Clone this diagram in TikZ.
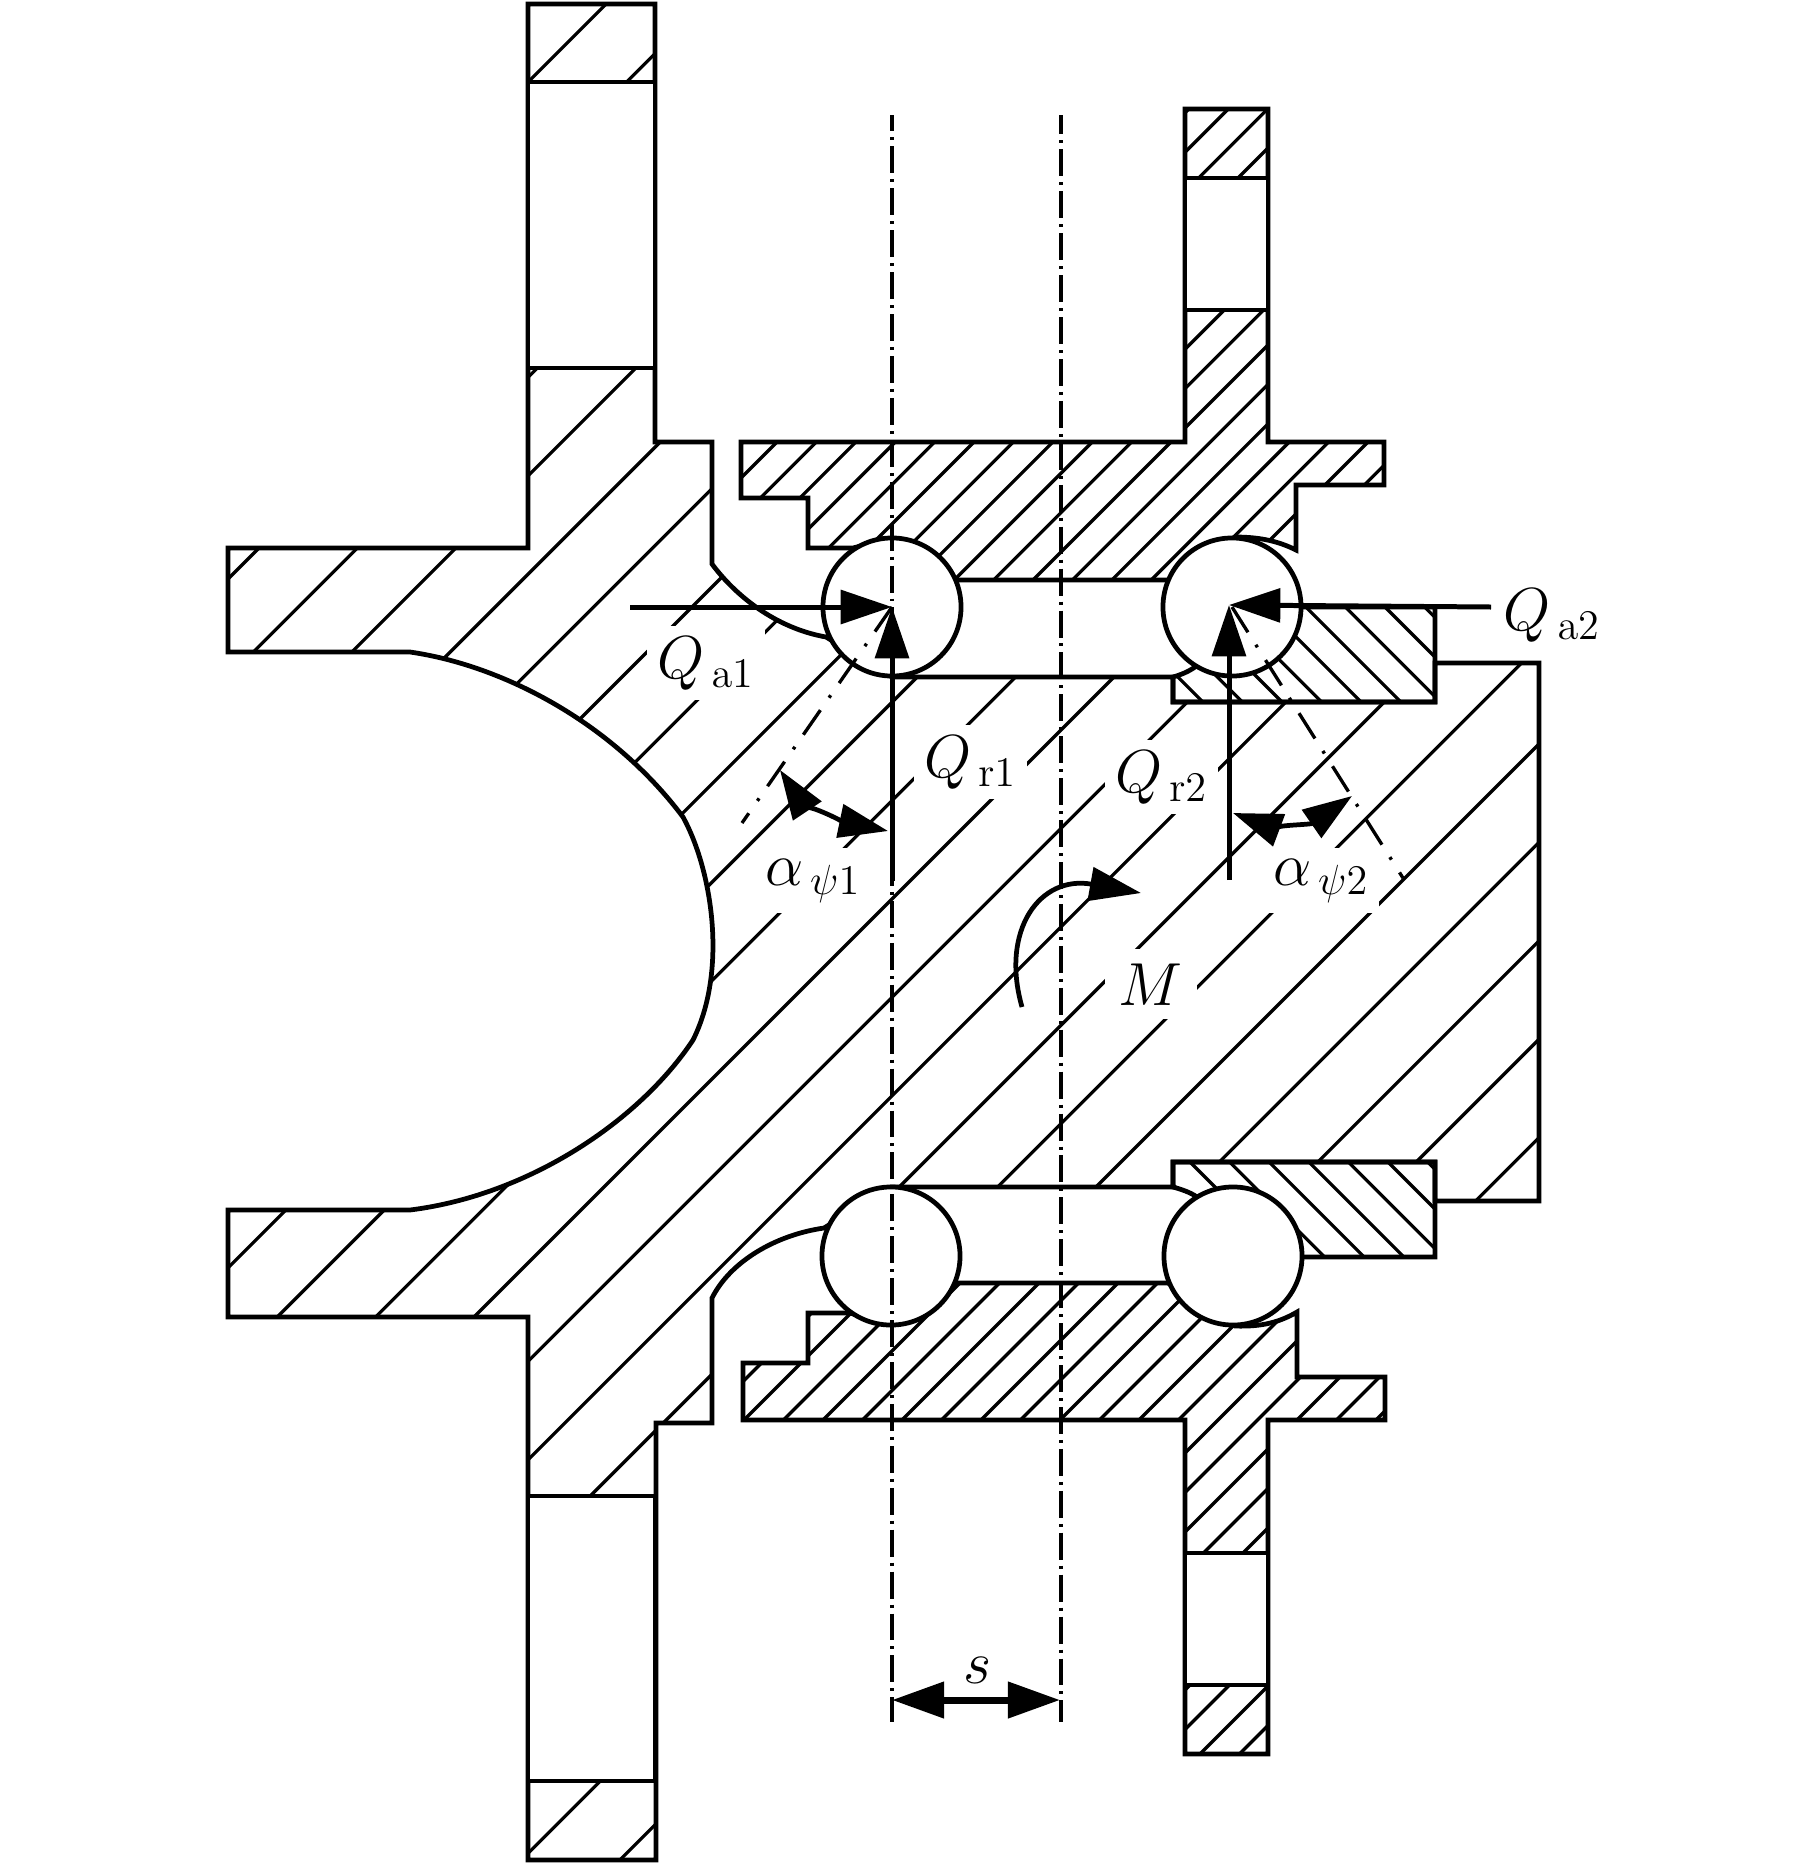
\documentclass[tikz,border=0pt]{standalone}
\usetikzlibrary{arrows.meta}
\tikzset{
	outline/.style={line width=1.35pt,line join=miter},
	hatch/.style={line width=0.92pt},
	ball/.style={circle,draw,fill=white,line width=1.35pt,minimum size=1.38cm,inner sep=0pt},
	lab/.style={fill=white,inner sep=3pt,font=\fontsize{17}{20}\selectfont},
	axisline/.style={line width=0.95pt,dash pattern=on 7.67pt off 1.7pt on 0.85pt off 1.7pt},
	slantline/.style={line width=0.95pt,dash pattern=on 8.5pt off 4.2pt on 0.85pt off 4.3pt},
	force/.style={line width=1.42pt,-{Triangle[length=14.6pt,width=9.5pt]}},
	turn/.style={line width=1.35pt,{Triangle[length=14pt,width=9.5pt]}-{Triangle[length=14pt,width=9.5pt]}}
}
\newcommand{\hubpath}{(528,4) -- (655,4) -- (655,442) -- (712,442) -- (712,564)
	.. controls (735,595) and (775,628) .. (826,637) -- (892,677) -- (1173,677) -- (1173,702)
	-- (1435,702) -- (1435,663) -- (1539,663) -- (1539,1201) -- (1435,1201) -- (1435,1162)
	-- (1173,1162) -- (1173,1187) -- (891,1187) -- (824,1228)
	.. controls (775,1235) and (730,1262) .. (712,1298) -- (712,1423) -- (656,1423) -- (656,1860)
	-- (528,1860) -- (528,1317) -- (228,1317) -- (228,1210) -- (410,1210)
	.. controls (530,1195) and (640,1120) .. (693,1040)
	.. controls (728,970) and (712,870) .. (683,817)
	.. controls (610,720) and (500,665) .. (410,652) -- (228,652) -- (228,548) -- (528,548) -- cycle}
\newcommand{\upperpath}{(741,442) -- (1185,442) -- (1185,109) -- (1268,109) -- (1268,442) -- (1384,442)
	-- (1384,485) -- (1296,485) -- (1296,550) .. controls (1280,542) and (1262,537) .. (1235,537)
	-- (1168,580) -- (955,580) -- (892,538) -- (853,548) -- (808,548) -- (808,498) -- (741,498) -- cycle}
\newcommand{\lowerpath}{(743,1363) -- (808,1363) -- (808,1313) -- (850,1313) -- (892,1325) -- (955,1283)
	-- (1168,1283) -- (1235,1326) .. controls (1262,1327) and (1280,1322) .. (1297,1312) -- (1297,1377)
	-- (1385,1377) -- (1385,1420) -- (1268,1420) -- (1268,1754) -- (1185,1754) -- (1185,1420) -- (743,1420) -- cycle}
\newcommand{\ringtop}{(1173,702) -- (1435,702) -- (1435,607) -- (1301,607) -- (1232,607) -- (1195,667)
	.. controls (1188,672) and (1180,675) .. (1173,677) -- cycle}
\newcommand{\ringlow}{(1173,1162) -- (1435,1162) -- (1435,1257) -- (1301,1257) -- (1233,1256) -- (1197,1197)
	.. controls (1190,1192) and (1180,1189) .. (1173,1187) -- cycle}
\begin{document}
\begin{tikzpicture}[x=0.01cm,y=-0.01cm]
	\useasboundingbox (0,0) rectangle (1819,1863);
	\begin{scope}
		\clip \hubpath;
		\foreach \k in {-2,...,24}
			\draw[hatch] ({807+98.4*\k},0) -- (0,{807+98.4*\k});
	\end{scope}
	\begin{scope}
		\clip \upperpath;
		\foreach \k in {0,...,26}
			\draw[hatch] ({1219+39.4*\k},0) -- (0,{1219+39.4*\k});
	\end{scope}
	\begin{scope}
		\clip \lowerpath;
		\foreach \k in {-1,...,22}
			\draw[hatch] ({2164+39.5*\k},0) -- (0,{2164+39.5*\k});
	\end{scope}
	\begin{scope}
		\clip \ringtop;
		\foreach \k in {-1,...,8}
			\draw[hatch] (1000,{222+39.6*\k}) -- (1500,{722+39.6*\k});
	\end{scope}
	\begin{scope}
		\clip \ringlow;
		\foreach \k in {-1,...,7}
			\draw[hatch] (1000,{972-39.6*\k}) -- (1500,{1472-39.6*\k});
	\end{scope}
	\node[lab,anchor=base west] (qa1) at (646,678) {$Q_{\,\mathrm{a1}}$};
	\node[lab,anchor=base west] (qr1) at (913,777) {$Q_{\,\mathrm{r1}}$};
	\node[lab,anchor=base west] (qr2) at (1104,792) {$Q_{\,\mathrm{r2}}$};
	\node[lab,anchor=base west] (qa2) at (1492,630) {$Q_{\,\mathrm{a2}}$};
	\node[lab,anchor=base west] (aps1) at (754,885) {$\alpha_{\,\psi 1}$};
	\node[lab,anchor=base west] (aps2) at (1262,885) {$\alpha_{\,\psi 2}$};
	\node[lab,anchor=base west,inner sep=4pt,font=\fontsize{18}{20}\selectfont] (mom) at (1104,1005) {$M$};
	\node[lab,anchor=base,inner sep=1pt,font=\fontsize{18}{20}\selectfont] (gap) at (978,1683) {$s$};
	\draw[outline] \hubpath;
	\draw[outline] \upperpath;
	\draw[outline] \lowerpath;
	\draw[outline] \ringtop;
	\draw[outline] \ringlow;
	\draw[outline,fill=white] (528,82) rectangle (655,368);
	\draw[outline,fill=white] (528,1496) rectangle (655,1781);
	\draw[outline,fill=white] (1185,178) rectangle (1268,310);
	\draw[outline,fill=white] (1185,1553) rectangle (1268,1685);
	\node[ball] (ball1) at (892,607) {};
	\node[ball] (ball2) at (1232,607) {};
	\node[ball] (ball3) at (891,1256) {};
	\node[ball] (ball4) at (1233,1256) {};
	\coordinate (axis1a) at (892,115);
	\coordinate (axis1b) at (892,1722);
	\coordinate (axis2a) at (1061,115);
	\coordinate (axis2b) at (1061,1722);
	\draw[axisline,dash phase=3pt] (axis1a) -- (axis1b);
	\draw[axisline,dash phase=2.13pt] (axis2a) -- (axis2b);
	\coordinate (slant1) at (742,823);
	\coordinate (slant2) at (1403,878);
	\draw[slantline] (ball1.center) -- (slant1);
	\draw[slantline] (ball2.center) -- (slant2);
	\coordinate (tipa1) at (630,607);
	\coordinate (tipr1) at (892,881);
	\coordinate (tipa2) at (1491,607);
	\coordinate (tipr2) at (1229,880);
	\coordinate (cen2) at (1229,605);
	\draw[force] (tipa1) -- (ball1.center);
	\draw[force] (tipr1) -- (ball1.center);
	\draw[force] (tipa2) -- (cen2);
	\draw[force] (tipr2) -- (cen2);
	\coordinate (turn1a) at (780,770);
	\coordinate (turn1b) at (888,831);
	\coordinate (turn2a) at (1233,813);
	\coordinate (turn2b) at (1352,796);
	\draw[turn] (turn1a) .. controls (800,800) and (845,822) .. (turn1b);
	\draw[turn] (turn2a) .. controls (1265,825) and (1310,825) .. (turn2b);
	\coordinate (mom1) at (1022,1007);
	\coordinate (mom2) at (1141,893);
	\draw[force,line width=1.35pt] (mom1) .. controls (1000,930) and (1040,875) .. (mom2);
	\coordinate (gapa) at (892,1700);
	\coordinate (gapb) at (1060,1700);
	\draw[line width=2pt,{Triangle[length=14.8pt,width=10pt]}-{Triangle[length=14.8pt,width=10pt]}] (gapa) -- (gapb);
\end{tikzpicture}
\end{document}
